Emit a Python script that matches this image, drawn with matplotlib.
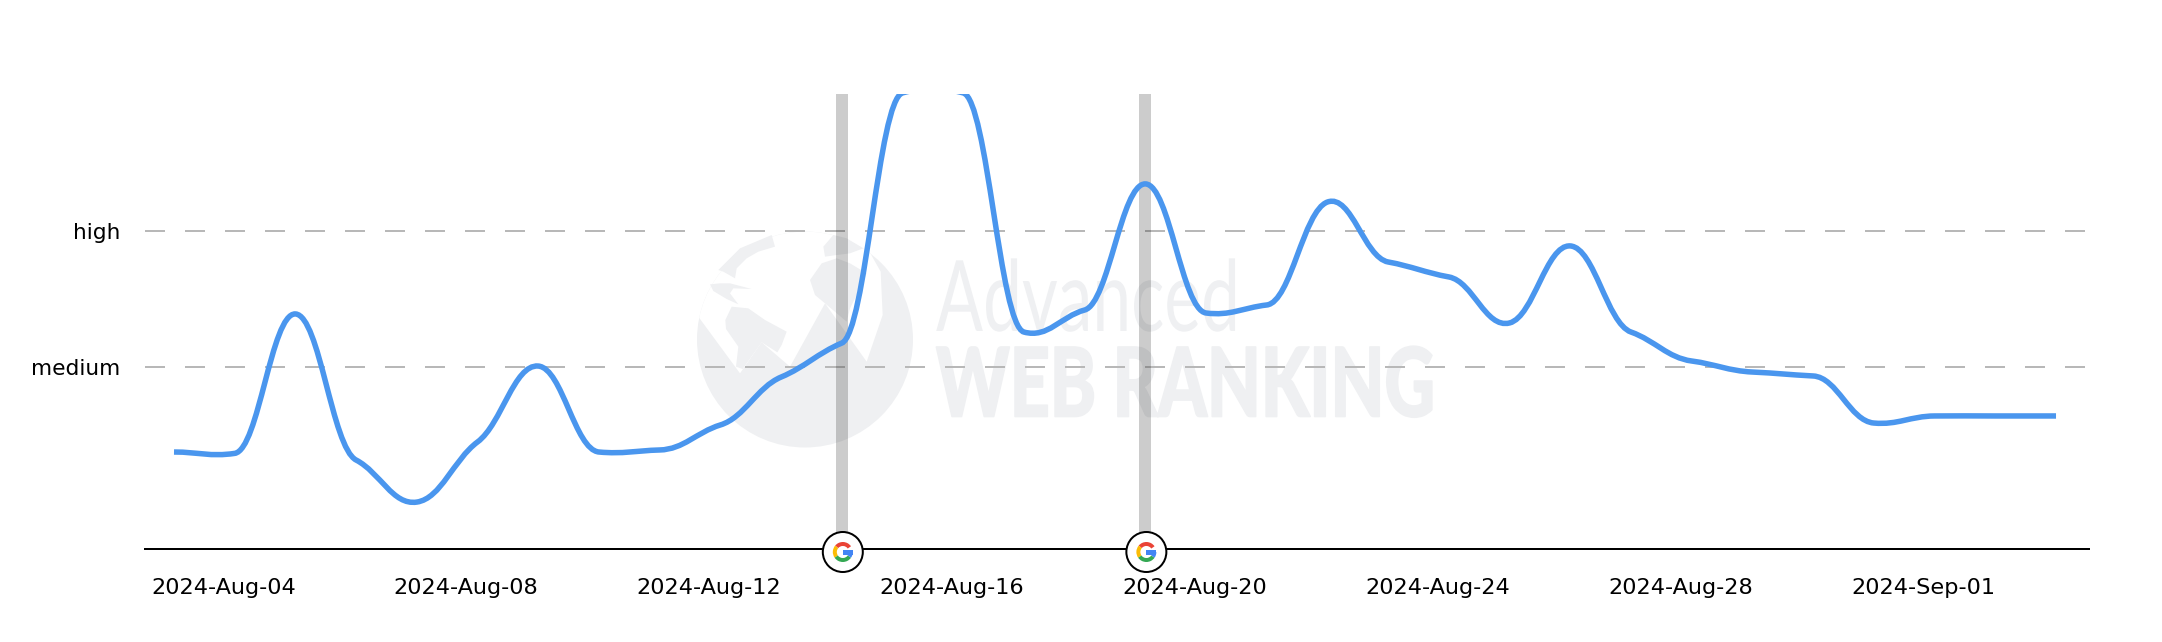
import numpy as np
import pandas as pd
import matplotlib
matplotlib.use('Agg')
import matplotlib.pyplot as plt
import matplotlib.dates as mdates
from matplotlib.patches import Circle, Polygon, PathPatch, Wedge, Rectangle
from matplotlib.path import Path
from matplotlib.patheffects import AbstractPathEffect
from matplotlib.transforms import Affine2D, IdentityTransform, ScaledTranslation

# Daily volatility, 2 = medium and 3 = high
dates = pd.date_range('2024-08-04', '2024-09-04', freq='D')
values = [1.375, 1.365, 2.39, 1.316, 1.007, 1.449, 2.007, 1.375, 1.39, 1.574, 1.926, 2.176,
          4.015, 4.015, 2.257, 2.419, 3.346, 2.397, 2.456, 3.213, 2.772, 2.662, 2.324, 2.89,
          2.257, 2.044, 1.963, 1.934, 1.588, 1.64, 1.64, 1.64]
level_values = [2, 3]
level_labels = ['medium', 'high']
tick_dates = pd.date_range('2024-08-04', '2024-09-01', freq='4D')
tick_labels = [d.strftime('%Y-%b-%d') for d in tick_dates]
update_dates = pd.to_datetime(['2024-08-15', '2024-08-20'])

W, H = 2162, 642
LINE = '#4a96ee'
MARK = '#eff0f2'
plt.rcParams['font.family'] = ['DejaVu Sans']

fig = plt.figure(figsize=(W / 100, H / 100), dpi=100)
ax = fig.add_axes([145 / W, 1 - 549 / H, (2089 - 145) / W, (549 - 94) / H])
ax.patch.set_visible(False)
ax.set_zorder(1)
x = mdates.date2num(dates)
ax.set_xlim(x[0] - 29 / 60.71, x[0] + (2089 - 174) / 60.71)
ax.set_ylim(0.662, 4.007)


class Squeeze(AbstractPathEffect):
    # squeezes a text sideways, the fonts here have no condensed cut
    def __init__(self, x0, sx, stroke):
        super().__init__()
        self.x0, self.sx, self.stroke = x0, sx, stroke

    def draw_path(self, renderer, gc, tpath, affine, rgbFace=None):
        squeeze = Affine2D().translate(-self.x0, 0).scale(self.sx, 1).translate(self.x0, 0)
        gc2 = renderer.new_gc()
        gc2.copy_properties(gc)
        gc2.set_foreground(MARK)
        gc2.set_linewidth(self.stroke)
        renderer.draw_path(gc2, tpath, affine + squeeze, rgbFace)
        gc2.restore()


def logo_text(s, left, right, base, size, stroke, **kw):
    t = fig.text(left / W, 1 - base / H, s, fontsize=size, color=MARK, va='baseline', zorder=0.5, **kw)
    box = t.get_window_extent(fig.canvas.get_renderer())
    t.set_path_effects([Squeeze(box.x0, (right - left) / box.width, stroke)])


# Watermark globe, points taken from the crop of the logo
globe = Affine2D().scale(1 / 3, -1 / 3).translate(690, H - 225)
disc = Circle((805, H - 339.5), 108, color=MARK, lw=0, transform=IdentityTransform(), zorder=0.1)
fig.add_artist(disc)
ocean = Polygon([(25, 275), (150, 445), (215, 352), (300, 425), (405, 235), (530, 410), (578, 270),
                 (572, 140), (510, 30), (400, -30), (200, -30), (-20, 150)],
                color='white', lw=0, transform=globe, zorder=0.2)
fig.add_artist(ocean)
ocean.set_clip_path(disc)
lands = [
    [(245, 30), (255, 65), (205, 80), (170, 100), (140, 130), (135, 160), (100, 140), (85, 135), (150, 70)],
    [(60, 178), (90, 175), (120, 175), (185, 192), (130, 190), (120, 205), (145, 238), (110, 222), (70, 198)],
    [(125, 245), (175, 250), (225, 285), (290, 320), (275, 360), (262, 382), (215, 352), (158, 432),
     (138, 425), (145, 365), (108, 312), (106, 285)],
    [(360, 165), (395, 115), (440, 100), (480, 115), (530, 145), (510, 190), (480, 250), (470, 290),
     (405, 235), (375, 210)],
    [(400, 65), (430, 30), (470, 40), (520, 70), (480, 85), (440, 90), (405, 95)],
]
for land in lands:
    fig.add_artist(Polygon(land, color=MARK, lw=0, transform=globe, zorder=0.3))
logo_text('Advanced', 936, 1240, 331, 71, 0, family='Lato', weight='regular')
logo_text('WEB RANKING', 936, 1435, 416.5, 69, 1.2, family='Lato', weight='black')

# Level lines
for v in level_values:
    ax.axhline(v, color='#b8b8b8', lw=1.44, dashes=(10, 10), zorder=1)

# Update bands
for d in update_dates:
    ax.axvline(mdates.date2num(d), color='black', alpha=0.2, lw=12 * 0.72, solid_capstyle='butt', zorder=1.5)

# Spline through the daily values, handles kept short at knees like the original
y = np.array(values)


def handle(i):
    if i == 0 or i == len(y) - 1:
        return 0
    h0 = (y[i + 1] - y[i - 1]) * 0.2
    limit = max(0.13 * abs(h0), 0.3 * min(abs(y[i] - y[i - 1]), abs(y[i + 1] - y[i])))
    return np.sign(h0) * min(abs(h0), limit)


verts = [(x[0], y[0])]
for i in range(len(y) - 1):
    dx = (x[i + 1] - x[i]) * 0.4
    verts += [(x[i] + dx, y[i] + handle(i)), (x[i + 1] - dx, y[i + 1] - handle(i + 1)), (x[i + 1], y[i + 1])]
codes = [Path.MOVETO] + [Path.CURVE4] * (len(verts) - 1)
ax.add_patch(PathPatch(Path(verts, codes), fill=False, edgecolor=LINE, lw=5.5 * 0.72, capstyle='butt', zorder=2))

# Axes
for name in ['top', 'right', 'left']:
    ax.spines[name].set_visible(False)
ax.spines['bottom'].set_linewidth(2 * 0.72)
ax.set_yticks(level_values, level_labels, fontsize=15.6)
ax.tick_params(axis='y', length=0, pad=18)
ax.set_xticks(mdates.date2num(tick_dates), tick_labels, fontsize=16.1, ha='left')
ax.tick_params(axis='x', length=0, pad=21.2)
shift = ScaledTranslation(-23 / 100, 0, fig.dpi_scale_trans)
for lab in ax.get_xticklabels():
    lab.set_transform(lab.get_transform() + shift)


def google_badge(d):
    cx, cy = ax.transData.transform((mdates.date2num(d), 0.662))
    cx += 1
    cy -= 3
    pix = IdentityTransform()
    ring = Circle((cx, cy), 20, facecolor='white', edgecolor='black', lw=2 * 0.72, transform=pix, zorder=4, clip_on=False)
    fig.add_artist(ring)
    arcs = [(35, 140, '#ea4335'), (140, 215, '#fbbc05'), (215, 325, '#34a853'), (325, 360, '#4285f4')]
    for a, b, c in arcs:
        fig.add_artist(Wedge((cx, cy), 10, a, b, width=4, color=c, lw=0, transform=pix, zorder=5))
    fig.add_artist(Rectangle((cx, cy - 3), 10, 5, color='#4285f4', lw=0, transform=pix, zorder=5))


for d in update_dates:
    google_badge(d)

fig.savefig('out.png', dpi=100)
